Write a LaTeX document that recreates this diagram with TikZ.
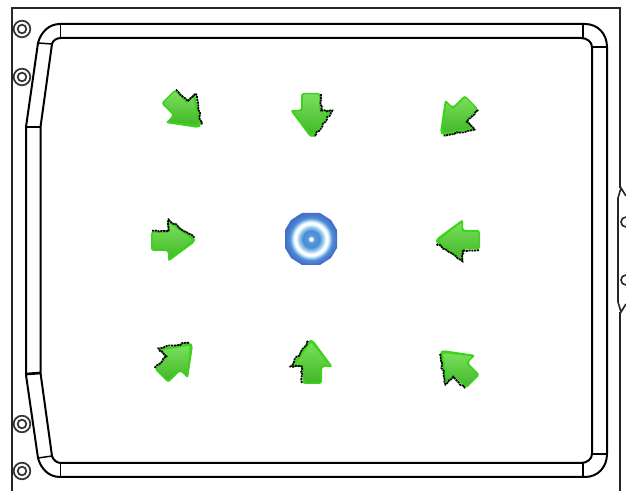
\documentclass[tikz,border=0pt]{standalone}
\usetikzlibrary{decorations.pathmorphing}
\definecolor{arrowlight}{RGB}{122,222,92}
\definecolor{arrowdeep}{RGB}{66,184,40}
\definecolor{arrowedge}{RGB}{62,210,30}
\pgfdeclareradialshading{targetshade}{\pgfpoint{0bp}{0bp}}{%
  rgb(0bp)=(1,1,1);rgb(1.6bp)=(1,1,1);rgb(3bp)=(.38,.60,.85);
  rgb(8bp)=(.27,.55,.83);rgb(12.5bp)=(.70,.87,.96);rgb(14.2bp)=(1,1,1);rgb(16.2bp)=(1,1,1);
  rgb(18bp)=(.65,.82,.95);rgb(20.5bp)=(.30,.55,.84);rgb(25bp)=(.27,.43,.78);rgb(50bp)=(.27,.43,.78)}
\tikzset{
  x=0.75pt,y=-0.75pt,
  rail/.style={draw=black,line width=1.5pt,line join=round},
  thin rail/.style={draw=black,line width=1.1pt},
  frame line/.style={draw=black!85!white,line width=1.2pt},
  screw/.style={draw=black!80,line width=1.3pt},
  arrowicon/.pic={
    \fill[arrowedge,rounded corners=2pt]
      (-10,-21) -- (9.5,-21) -- (9.5,-4) -- (21,-4) -- (3,23) -- (-1,23) -- (-21,-4) -- (-10,-4) -- cycle;
    \shade[top color=arrowlight,bottom color=arrowdeep,rounded corners=1pt]
      (-8,-19.5) -- (8,-19.5) -- (8,-2.5) -- (17.5,-2.5) -- (1,20.5) -- (-17.5,-2.5) -- (-8,-2.5) -- cycle;
    \draw[black,line width=1.3pt,dash pattern=on 1.6pt off .5pt,
      decorate,decoration={random steps,segment length=2pt,amplitude=.7pt}]
      (10.2,-20) -- (10.2,-3.5) -- (21.3,-3.5) -- (3.5,22.5);
  }
}
\begin{document}
\begin{tikzpicture}
\useasboundingbox (0,0) rectangle (626,491);
% outer frame
\draw[frame line] (12,491) -- (12,8) -- (620,8) -- (620,188);
\draw[frame line] (620,491) -- (620,312);
% right side bracket
\draw[frame line] (626,196) -- (621,188) -- (618,198) -- (618,302) -- (621,312) -- (626,304);
\draw[frame line] (626,227) arc (90:270:5);
\draw[frame line] (626,285) arc (90:270:5);
% outer rail
\draw[rail] (26,127) -- (26,375) -- (38,458)
  .. controls (41,469) and (49,477) .. (60,477) -- (585,477)
  .. controls (598,477) and (607,467) .. (607,454) -- (607,47)
  .. controls (607,34) and (598,24) .. (585,24) -- (60,24)
  .. controls (49,24) and (41,32) .. (38,43) -- cycle;
% inner rail
\draw[rail] (40.5,127) -- (40.5,373) -- (52,456)
  .. controls (53,460) and (57,463) .. (61,463) -- (581,463)
  .. controls (587,463) and (592,459) .. (592,454) -- (592,47)
  .. controls (592,42) and (587,38) .. (581,38) -- (61,38)
  .. controls (57,38) and (53,40) .. (52,44) -- cycle;
% corner and joint dividers
\draw[thin rail] (38,43) -- (52,44);
\draw[thin rail] (38,458) -- (52,456);
\draw[thin rail] (60.5,24) -- (60.5,38);
\draw[thin rail] (60.5,463) -- (60.5,477);
\draw[thin rail] (583,24) -- (583,38);
\draw[thin rail] (583,463) -- (583,477);
\draw[thin rail] (592,47) -- (607,47);
\draw[thin rail] (592,454) -- (607,454);
\draw[line width=2pt] (27,127) -- (40,127);
\draw[line width=2pt] (27,374) -- (40,373);
% screws
\foreach \yy in {29,77,424,471}{
  \draw[screw] (22,\yy) circle (8.3);
  \draw[screw] (22,\yy) circle (4.3);
}
% arrows
\pic[rotate=0] at (311,114) {arrowicon};
\pic[rotate=180] at (312,363) {arrowicon};
\pic[rotate=-90] at (459,240) {arrowicon};
\pic[rotate=90] at (172,241) {arrowicon};
\pic[rotate=45] at (183,111) {arrowicon};
\pic[rotate=-45] at (457,117) {arrowicon};
\pic[rotate=135] at (176,361) {arrowicon};
\pic[rotate=-135] at (458,367) {arrowicon};
% target
\shade[shading=targetshade]
  (302,213) -- (320,213) -- (331,220) -- (337,230) -- (337,248) -- (331,258) -- (320,265) -- (302,265)
  -- (291,258) -- (285,248) -- (285,230) -- (291,220) -- cycle;
\end{tikzpicture}
\end{document}
